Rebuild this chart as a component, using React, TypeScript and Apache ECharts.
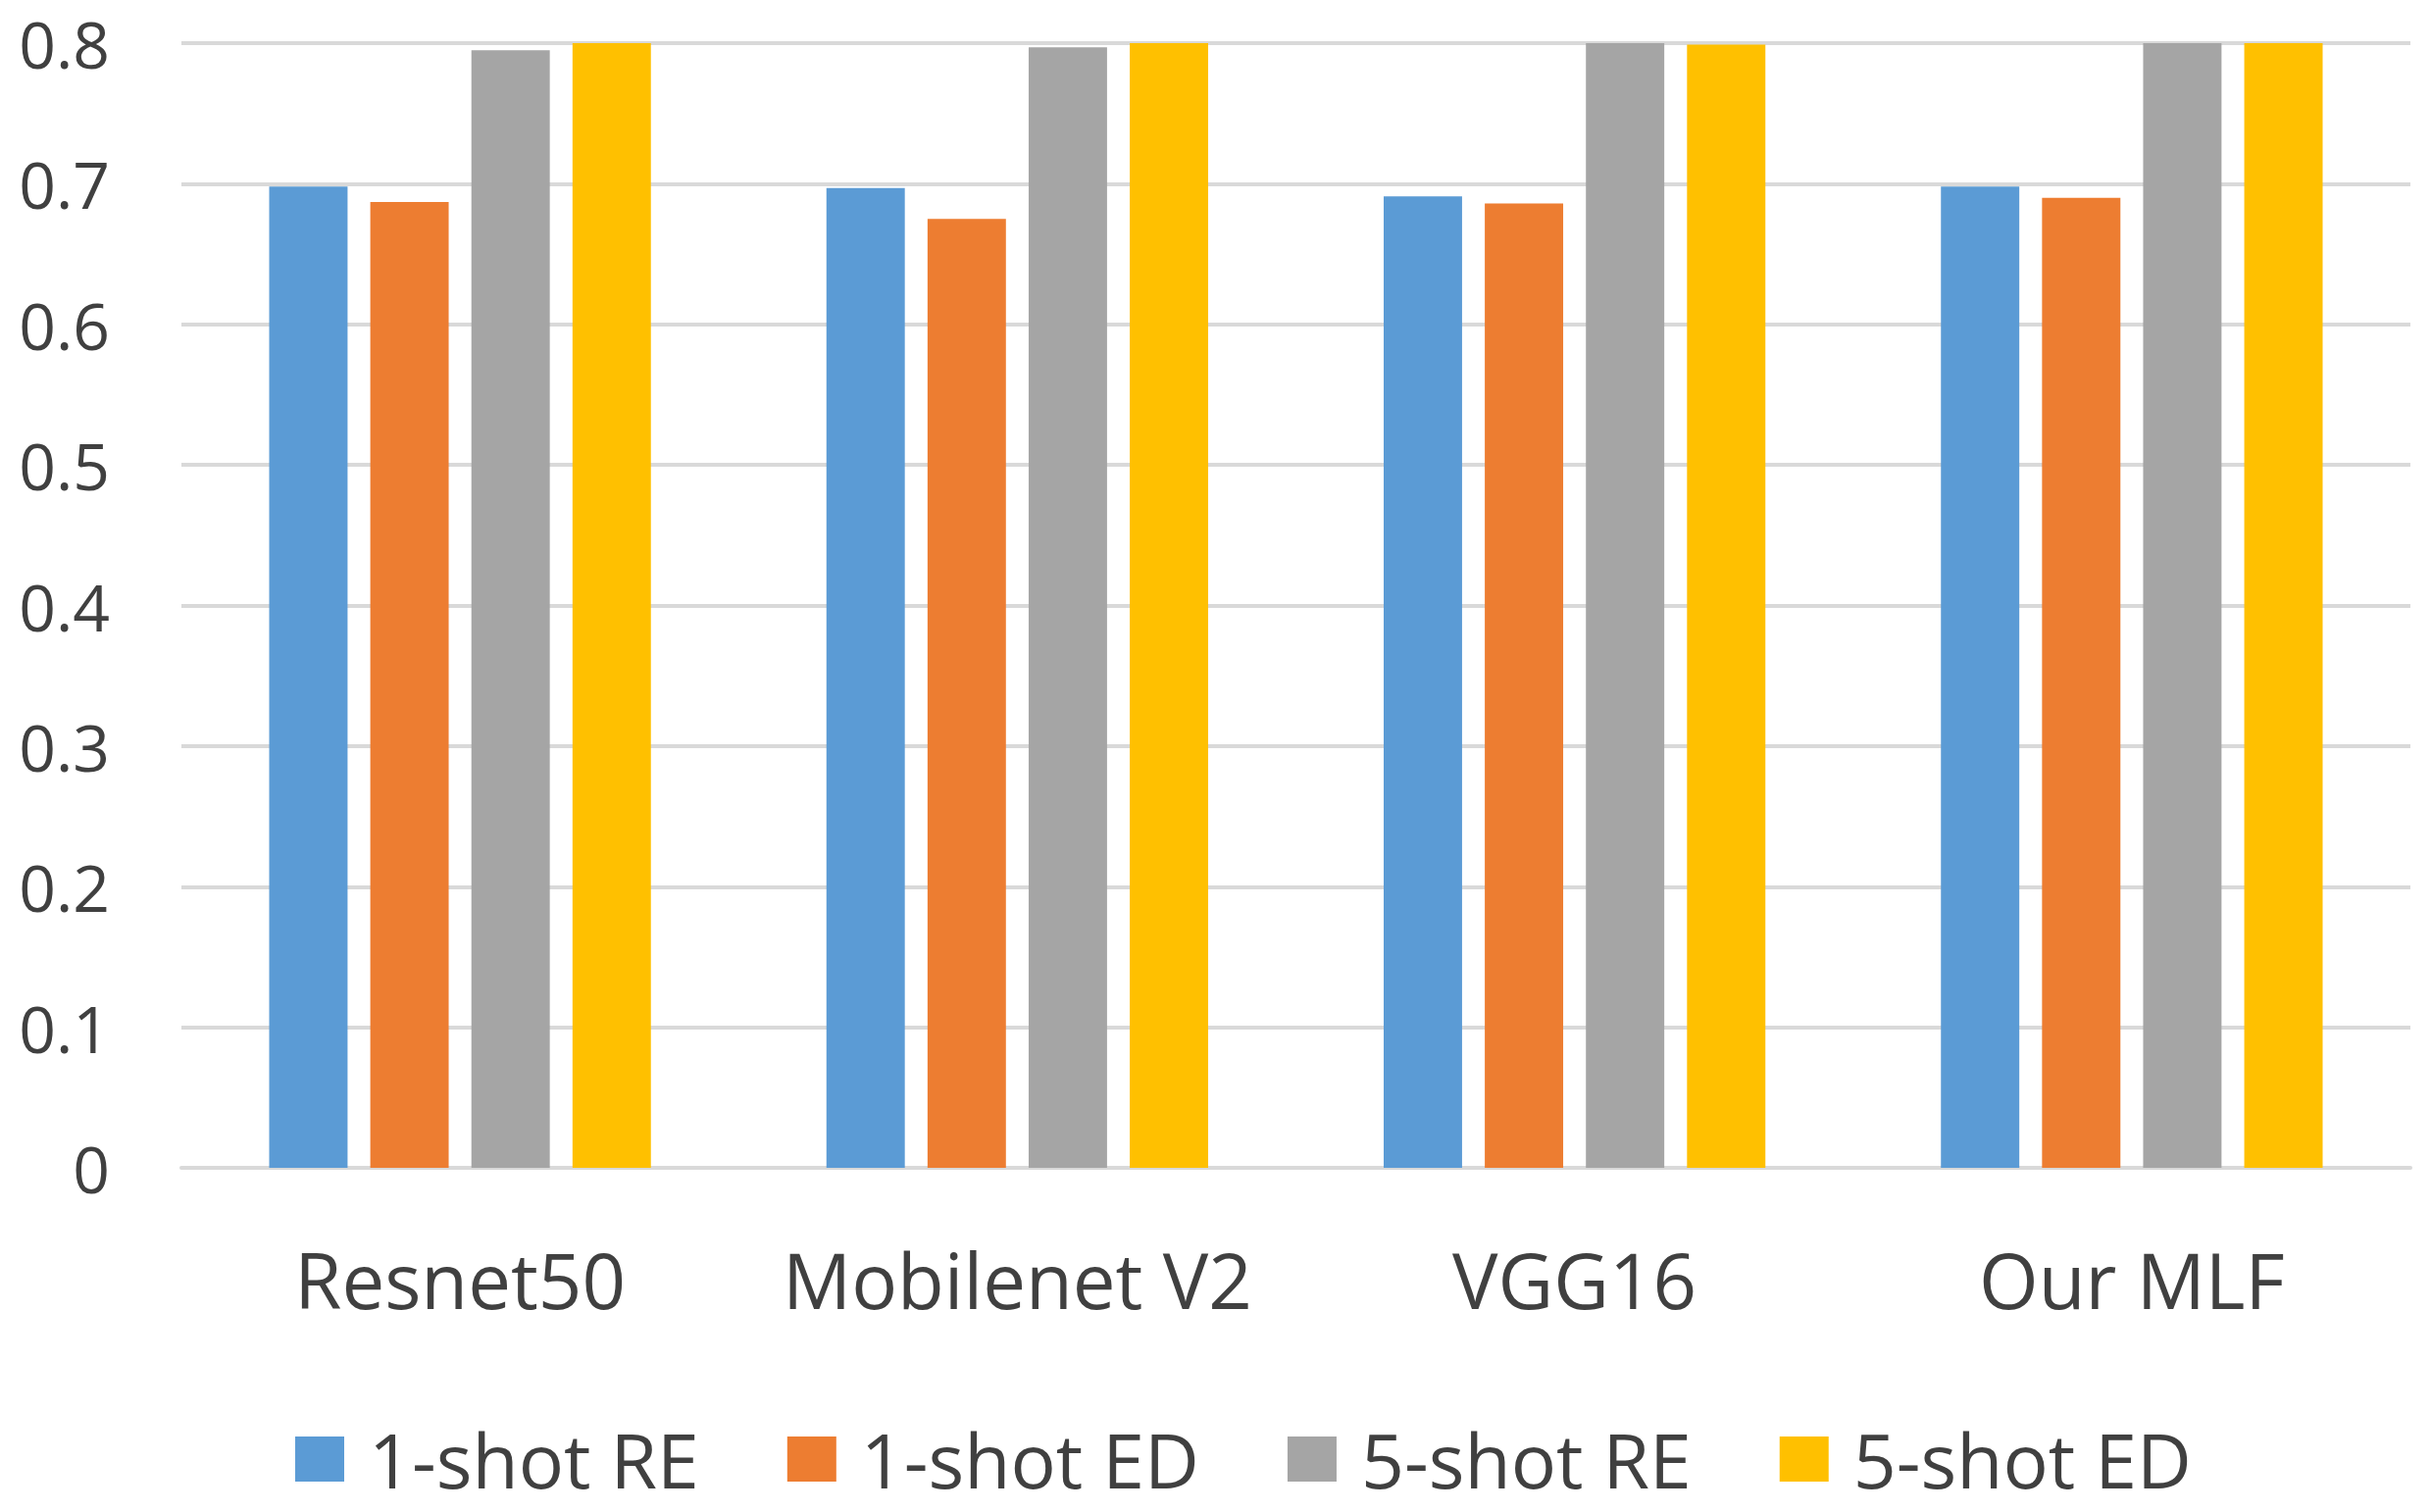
import React, { useEffect, useRef } from "react";
import * as echarts from "echarts";

const categories = ["Resnet50", "Mobilenet V2", "VGG16", "Our MLF"];
const seriesNames = ["1-shot RE", "1-shot ED", "5-shot RE", "5-shot ED"];
const oneShotRE = [0.698, 0.697, 0.691, 0.698];
const oneShotED = [0.687, 0.675, 0.686, 0.690];
const fiveShotRE = [0.795, 0.797, 0.8, 0.8];
const fiveShotED = [0.8, 0.8, 0.799, 0.8];
const colors = ["#5B9BD5", "#ED7D31", "#A5A5A5", "#FFC000"];

const FONT = "'Open Sans', 'Noto Sans', sans-serif";
const TEXT = "#404040";

export default function App() {
  const ref = useRef<HTMLDivElement>(null);
  useEffect(() => {
    if (!ref.current) return;
    const chart = echarts.init(ref.current, undefined, { renderer: "svg" });
    const values = [oneShotRE, oneShotED, fiveShotRE, fiveShotED];
    chart.setOption({
      animation: false,
      backgroundColor: "#ffffff",
      grid: { left: 185, right: 21, top: 44, bottom: 351, containLabel: false },
      legend: {
        data: seriesNames,
        left: 301,
        top: 1449,
        padding: 0,
        itemWidth: 50,
        itemHeight: 46,
        itemGap: 90,
        icon: "rect",
        textStyle: {
          fontFamily: FONT,
          fontSize: 77,
          lineHeight: 78,
          color: TEXT,
          padding: [0, 0, 0, 20],
        },
      },
      xAxis: {
        type: "category",
        data: categories,
        axisLine: { show: true, lineStyle: { color: "#D9D9D9", width: 4 } },
        axisTick: { show: false },
        axisLabel: {
          fontFamily: FONT,
          fontSize: 78,
          lineHeight: 78,
          color: TEXT,
          margin: 75,
          interval: 0,
        },
      },
      yAxis: {
        type: "value",
        min: 0,
        max: 0.8,
        interval: 0.1,
        axisLine: { show: false },
        axisTick: { show: false },
        splitLine: { lineStyle: { color: "#D9D9D9", width: 4 } },
        axisLabel: {
          fontFamily: FONT,
          fontSize: 66,
          color: TEXT,
          margin: 73,
        },
      },
      series: seriesNames.map((name, i) => ({
        name,
        type: "bar",
        data: values[i],
        barGap: "29%",
        barCategoryGap: "31.5%",
        itemStyle: { color: colors[i] },
      })),
    });
    return () => chart.dispose();
  }, []);
  return (
    <div
      ref={ref}
      style={{ position: "fixed", left: 0, top: 0, width: 2479, height: 1542 }}
    />
  );
}
